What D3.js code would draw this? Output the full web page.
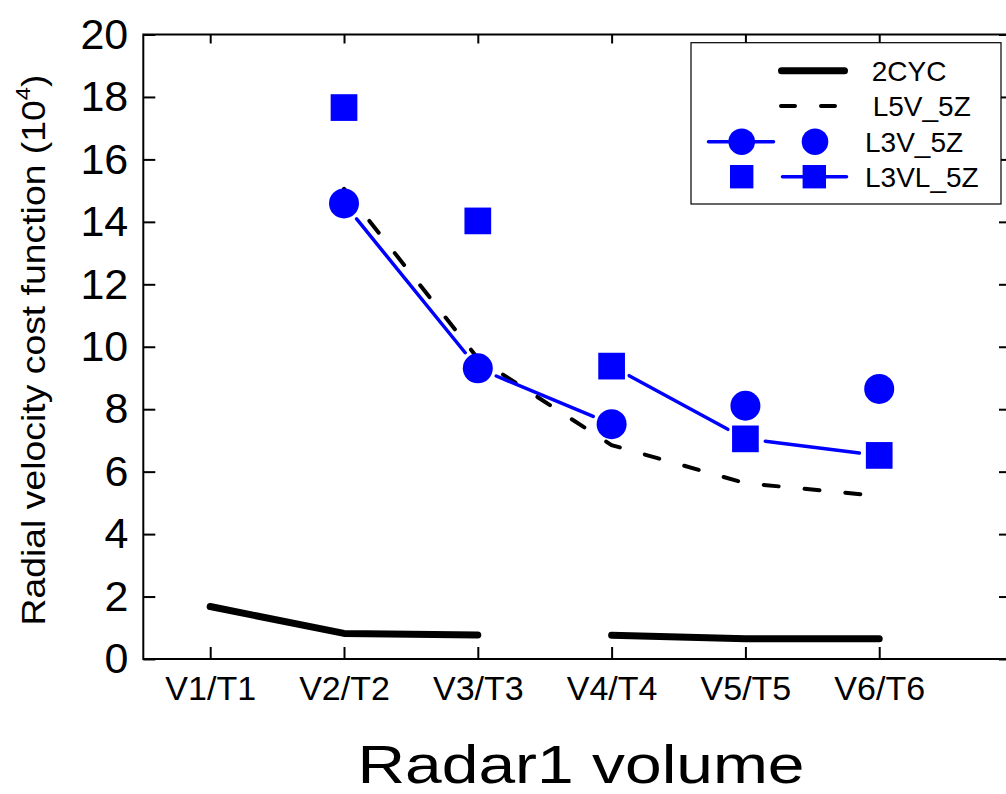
<!DOCTYPE html>
<html>
<head>
<meta charset="utf-8">
<script src="https://cdn.jsdelivr.net/npm/d3@7/dist/d3.min.js"></script>
<style>
  html, body { margin: 0; padding: 0; background: #fff; }
  svg { display: block; }
  text { font-family: "Liberation Sans", Arial, sans-serif; fill: #000; }
</style>
</head>
<body>
<svg id="chart" width="1006" height="794"></svg>
<script>
// ---------------- data ----------------
const categories = ["V1/T1", "V2/T2", "V3/T3", "V4/T4", "V5/T5", "V6/T6"];
const yTicks = [0, 2, 4, 6, 8, 10, 12, 14, 16, 18, 20];
const seriesNames = ["2CYC", "L5V_5Z", "L3V_5Z", "L3VL_5Z"];

// 2CYC is drawn as two separate pieces (no segment between V3 and V4)
const cyc2PartA = [1.68, 0.82, 0.77, null, null, null];
const cyc2PartB = [null, null, null, 0.76, 0.65, 0.65];
const l5v5z = [null, 15.06, 9.63, 6.85, 5.63, 5.22];
const l3v5z = [null, 14.59, 9.31, 7.52, 8.11, 8.65];
const l3v5zJoined = [false, true, true, true, false, false];
const l3vl5z = [null, 17.66, 14.03, 9.38, 7.05, 6.52];
const l3vl5zJoined = [false, false, false, true, true, true];

// ---------------- layout ----------------
const svg = d3.select("#chart");
const pLeft = 143.3, pRight = 1007, pTop = 34.5, pBottom = 659;
const blue = "#0000ff";

const x = d3.scaleLinear().domain([0.5, 6.955]).range([pLeft, pRight]);
const y = d3.scaleLinear().domain([0, 20]).range([pBottom, pTop]);
const xi = i => x(i + 1);

// frame
svg.append("rect")
  .attr("x", pLeft).attr("y", pTop)
  .attr("width", pRight - pLeft).attr("height", pBottom - pTop)
  .attr("fill", "none").attr("stroke", "#000").attr("stroke-width", 2);

// axes
const styleAxis = g => {
  g.select(".domain").remove();
  g.selectAll(".tick line").attr("stroke", "#000").attr("stroke-width", 2);
};

svg.append("g")
  .attr("transform", `translate(${pLeft},0)`)
  .call(d3.axisLeft(y).tickValues(yTicks).tickSizeInner(-12).tickSizeOuter(0).tickPadding(15))
  .call(styleAxis)
  .call(g => g.selectAll(".tick text")
    .attr("font-size", 43).attr("font-family", "'Liberation Sans', Arial, sans-serif").attr("fill", "#000"));

svg.append("g")
  .attr("transform", `translate(${pRight},0)`)
  .call(d3.axisRight(y).tickValues(yTicks).tickSizeInner(-8).tickSizeOuter(0).tickFormat(""))
  .call(styleAxis);

svg.append("g")
  .attr("transform", `translate(0,${pBottom})`)
  .call(d3.axisBottom(x).tickValues(d3.range(1, categories.length + 1))
    .tickFormat(d => categories[d - 1]).tickSizeInner(-12).tickSizeOuter(0).tickPadding(17))
  .call(styleAxis)
  .call(g => g.selectAll(".tick text")
    .attr("font-size", 34).attr("font-family", "'Liberation Sans', Arial, sans-serif").attr("fill", "#000"));

svg.append("g")
  .attr("transform", `translate(0,${pTop})`)
  .call(d3.axisTop(x).tickValues(d3.range(1, categories.length + 1)).tickSizeInner(-9).tickSizeOuter(0).tickFormat(""))
  .call(styleAxis);

// axis titles
const yTitle = svg.append("text")
  .attr("transform", `translate(45,350) rotate(-90)`)
  .attr("text-anchor", "middle")
  .attr("font-size", 33)
  .attr("textLength", 551).attr("lengthAdjust", "spacingAndGlyphs");
yTitle.append("tspan").text("Radial velocity cost function (10");
yTitle.append("tspan").attr("font-size", 21).attr("dy", -15).text("4");
yTitle.append("tspan").attr("dy", 15).text(")");

svg.append("text")
  .attr("x", 581).attr("y", 783)
  .attr("text-anchor", "middle")
  .attr("font-size", 53)
  .attr("textLength", 447).attr("lengthAdjust", "spacingAndGlyphs")
  .text("Radar1 volume");

// ---------------- marks ----------------
const lineGen = d3.line()
  .defined(d => d != null)
  .x((d, i) => xi(i))
  .y(d => y(d));

[cyc2PartA, cyc2PartB].forEach(part => {
  svg.append("path")
    .attr("d", lineGen(part))
    .attr("fill", "none").attr("stroke", "#000").attr("stroke-width", 7)
    .attr("stroke-linecap", "round").attr("stroke-linejoin", "round");
});

svg.append("path")
  .attr("d", lineGen(l5v5z))
  .attr("fill", "none").attr("stroke", "#000").attr("stroke-width", 4)
  .attr("stroke-dasharray", "15,26").attr("stroke-linecap", "round");

function gapSegments(vals, joined, gap) {
  const segs = [];
  for (let i = 0; i < vals.length - 1; i++) {
    if (joined[i] && joined[i + 1] && vals[i] != null && vals[i + 1] != null) {
      const x1 = xi(i), y1 = y(vals[i]), x2 = xi(i + 1), y2 = y(vals[i + 1]);
      const d = Math.hypot(x2 - x1, y2 - y1);
      const ux = (x2 - x1) / d, uy = (y2 - y1) / d;
      segs.push([x1 + ux * gap, y1 + uy * gap, x2 - ux * gap, y2 - uy * gap]);
    }
  }
  return segs;
}

[[l3v5z, l3v5zJoined], [l3vl5z, l3vl5zJoined]].forEach(([vals, joined]) => {
  svg.append("g").selectAll("line")
    .data(gapSegments(vals, joined, 20))
    .join("line")
    .attr("x1", d => d[0]).attr("y1", d => d[1])
    .attr("x2", d => d[2]).attr("y2", d => d[3])
    .attr("stroke", blue).attr("stroke-width", 3.5).attr("stroke-linecap", "round");
});

const circR = 15, sqS = 26.7;
svg.append("g").selectAll("circle")
  .data(l3v5z.map((v, i) => ({ v, i })).filter(d => d.v != null))
  .join("circle")
  .attr("cx", d => xi(d.i)).attr("cy", d => y(d.v)).attr("r", circR)
  .attr("fill", blue);

svg.append("g").selectAll("rect")
  .data(l3vl5z.map((v, i) => ({ v, i })).filter(d => d.v != null))
  .join("rect")
  .attr("x", d => xi(d.i) - sqS / 2).attr("y", d => y(d.v) - sqS / 2)
  .attr("width", sqS).attr("height", sqS)
  .attr("fill", blue);

// ---------------- legend ----------------
const lg = svg.append("g").attr("transform", "translate(691,42.7)");
lg.append("rect").attr("x", 0).attr("y", 0).attr("width", 310).attr("height", 161.3)
  .attr("fill", "#fff").attr("stroke", "#000").attr("stroke-width", 1.2);

const rowY = [28, 63.3, 99, 134];
const textX = [180.7, 181.7, 174, 174];
seriesNames.forEach((name, k) => {
  lg.append("text").attr("x", textX[k]).attr("y", rowY[k] + 10)
    .attr("font-size", 28).text(name);
});
// 2CYC
lg.append("line").attr("x1", 90.5).attr("x2", 153.5).attr("y1", rowY[0]).attr("y2", rowY[0])
  .attr("stroke", "#000").attr("stroke-width", 7).attr("stroke-linecap", "round");
// L5V_5Z
lg.append("line").attr("x1", 90).attr("x2", 144).attr("y1", rowY[1]).attr("y2", rowY[1])
  .attr("stroke", "#000").attr("stroke-width", 4).attr("stroke-dasharray", "14,26").attr("stroke-linecap", "round");
// L3V_5Z
lg.append("line").attr("x1", 17.5).attr("x2", 82.5).attr("y1", rowY[2]).attr("y2", rowY[2])
  .attr("stroke", blue).attr("stroke-width", 3.5).attr("stroke-linecap", "round");
[50.7, 124].forEach(cx => lg.append("circle").attr("cx", cx).attr("cy", rowY[2]).attr("r", 13.3).attr("fill", blue));
// L3VL_5Z
lg.append("line").attr("x1", 91.5).attr("x2", 155.5).attr("y1", rowY[3]).attr("y2", rowY[3])
  .attr("stroke", blue).attr("stroke-width", 3.5).attr("stroke-linecap", "round");
[50.7, 123.3].forEach(cx => lg.append("rect").attr("x", cx - 11.7).attr("y", rowY[3] - 11.7)
  .attr("width", 23.4).attr("height", 23.4).attr("fill", blue));
</script>
</body>
</html>
